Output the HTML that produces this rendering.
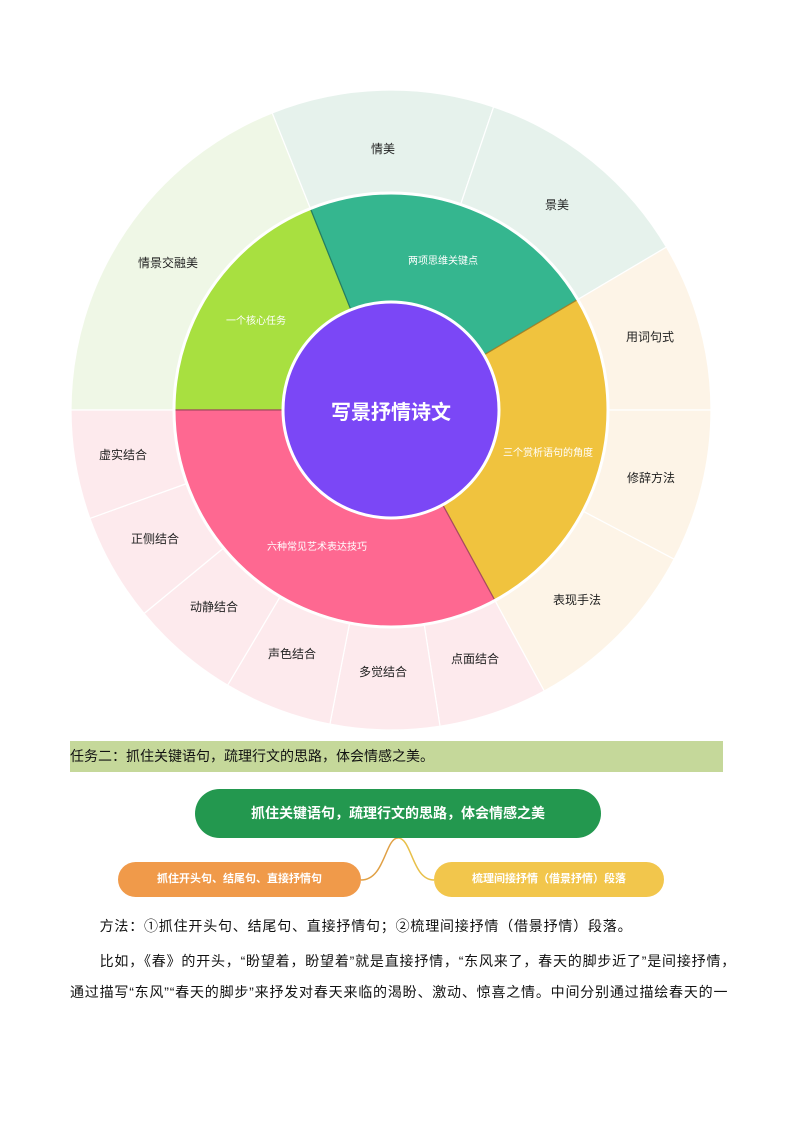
<!DOCTYPE html>
<html><head><meta charset="utf-8">
<style>
body{margin:0;background:#fff;}
#p{position:relative;width:794px;height:1123px;overflow:hidden;font-family:"Liberation Sans","Noto Sans CJK SC",sans-serif;}
svg text{font-family:"Liberation Sans","Noto Sans CJK SC",sans-serif;}
.banner{position:absolute;left:70px;top:741px;width:653px;height:31px;background:#c5d89a;font-size:14px;line-height:31px;color:#111;}
.pill{position:absolute;border-radius:30px;color:#fff;text-align:center;font-weight:bold;}
.t{position:absolute;left:70px;font-size:14px;color:#111;white-space:nowrap;letter-spacing:0.8px;}
</style></head><body><div id="p">
<svg width="794" height="740" style="position:absolute;left:0;top:0">
<g id="g"></g>
<circle cx="391" cy="410" r="217" fill="none" stroke="#fff" stroke-width="3"/>
<circle cx="391" cy="410" r="108" fill="#7b47f6" stroke="#fff" stroke-width="3"/>
<g font-size="12" fill="#222" text-anchor="middle">
<text x="383" y="153">情美</text>
<text x="557" y="209">景美</text>
<text x="650" y="341">用词句式</text>
<text x="651" y="482">修辞方法</text>
<text x="577" y="604">表现手法</text>
<text x="475" y="663">点面结合</text>
<text x="383" y="676">多觉结合</text>
<text x="292" y="658">声色结合</text>
<text x="214" y="611">动静结合</text>
<text x="155" y="543">正侧结合</text>
<text x="123" y="459">虚实结合</text>
<text x="168" y="267">情景交融美</text>
</g>
<g font-size="10" fill="#fff" text-anchor="middle">
<text x="256" y="324">一个核心任务</text>
<text x="443" y="264">两项思维关键点</text>
<text x="548" y="456">三个赏析语句的角度</text>
<text x="317" y="550">六种常见艺术表达技巧</text>
</g>
<text x="391" y="419" font-size="20" font-weight="bold" fill="#fff" text-anchor="middle">写景抒情诗文</text>
</svg>
<div class="banner">任务二：抓住关键语句，疏理行文的思路，体会情感之美。</div>
<svg width="794" height="1123" style="position:absolute;left:0;top:0;pointer-events:none">
<path d="M361 880 C385 880,385 838,398 838" fill="none" stroke="#e0a045" stroke-width="1.5"/>
<path d="M398 838 C412 838,412 880,434 880" fill="none" stroke="#e8c04a" stroke-width="1.5"/>
</svg>
<div class="pill" style="left:195px;top:789px;width:406px;height:49px;background:#23984f;font-size:14px;line-height:49px;">抓住关键语句，疏理行文的思路，体会情感之美</div>
<div class="pill" style="left:118px;top:862px;width:243px;height:35px;background:#f09a4a;font-size:11px;line-height:35px;">抓住开头句、结尾句、直接抒情句</div>
<div class="pill" style="left:434px;top:862px;width:230px;height:35px;background:#f2c64c;font-size:11px;line-height:35px;">梳理间接抒情（借景抒情）段落</div>
<div class="t" style="top:916px;">　　方法：①抓住开头句、结尾句、直接抒情句；②梳理间接抒情（借景抒情）段落。</div>
<div class="t" style="top:951px;">　　比如，《春》的开头，“盼望着，盼望着”就是直接抒情，“东风来了，春天的脚步近了”是间接抒情，</div>
<div class="t" style="top:982px;">通过描写“东风”“春天的脚步”来抒发对春天来临的渴盼、激动、惊喜之情。中间分别通过描绘春天的一</div>
</div>
<script>
(function(){
var cx=391,cy=410,g=document.getElementById('g');
function P(a,r){a=a*Math.PI/180;return (cx+r*Math.cos(a)).toFixed(1)+' '+(cy+r*Math.sin(a)).toFixed(1);}
function sec(a0,a1,r0,r1,fill,stroke,sw){
 var l=(a1-a0)>180?1:0;
 var d='M'+P(a0,r0)+' L'+P(a0,r1)+' A'+r1+' '+r1+' 0 '+l+' 1 '+P(a1,r1)+' L'+P(a1,r0)+' A'+r0+' '+r0+' 0 '+l+' 0 '+P(a0,r0)+'Z';
 var e=document.createElementNS('http://www.w3.org/2000/svg','path');
 e.setAttribute('d',d);e.setAttribute('fill',fill);e.setAttribute('stroke',stroke);e.setAttribute('stroke-width',sw);
 g.appendChild(e);
}
var outer=[[180,248.2,'#eff7e6'],[248.2,288.7,'#e6f2ec'],[288.7,329.4,'#e6f2ec'],[329.4,360,'#fdf4e7'],[360,387.8,'#fdf4e7'],[387.8,421.4,'#fdf4e7'],
[61.4,81.2,'#fdeaed'],[81.2,101,'#fdeaed'],[101,120.7,'#fdeaed'],[120.7,140.5,'#fdeaed'],[140.5,160.2,'#fdeaed'],[160.2,180,'#fdeaed']];
outer.forEach(function(o){sec(o[0],o[1],217,320,o[2],'#fff',1.2);});
var mid=[[180,248.2,'#a8e040','#6e9a2a'],[248.2,329.4,'#35b68f','#247d62'],[329.4,421.4,'#f0c33e','#a3842a'],[61.4,180,'#fe6891','#a84a62']];
mid.forEach(function(o){sec(o[0],o[1],108,217,o[2],o[3],1.2);});
})();
</script>
</body></html>
